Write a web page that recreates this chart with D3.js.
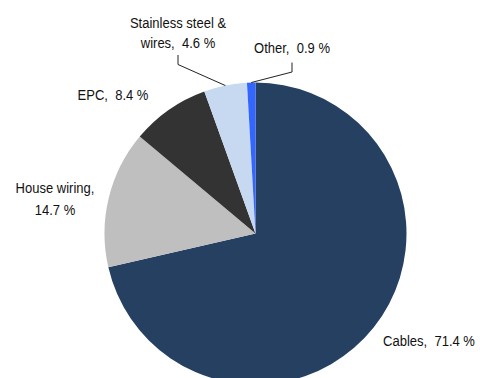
<!DOCTYPE html>
<html>
<head>
<meta charset="utf-8">
<script src="https://cdn.jsdelivr.net/npm/d3@7"></script>
<style>
  html, body { margin: 0; padding: 0; background: #fff; }
  svg { display: block; }
  text { font-family: "Liberation Sans", Arial, sans-serif; font-size: 15.5px; fill: #111; }
</style>
</head>
<body>
<svg id="chart" width="480" height="378"></svg>
<script>
// Segment names and shares (%)
const categories = ["Cables", "House wiring", "EPC", "Stainless steel & wires", "Other"];
const shares = [71.4, 14.7, 8.4, 4.6, 0.9];
const colors = ["#264061", "#bfbfbf", "#333333", "#c6d9f1", "#3366ff"];

// Label text lines for each segment (value is appended from shares)
const labelLines = [
  ["Cables, "],
  ["House wiring,", ""],
  ["EPC, "],
  ["Stainless steel &", "wires, "],
  ["Other, "]
];

// Label placement: anchor point, line spacing, and optional leader elbow
const labelLayout = [
  { x: 429, y: 345.5, dy: 0, leader: false },
  { x: 55, y: 193, dy: 22, leader: false },
  { x: 113, y: 100, dy: 0, leader: false },
  { x: 178, y: 27.5, dy: 20.8, leader: true, elbowY: 55 },
  { x: 292, y: 52.7, dy: 0, leader: true, elbowY: 62.5 }
];

// Condensed look for the label face
const textScaleX = 0.84;

const svg = d3.select("#chart");
const cx = 255.5, cy = 233.5, radius = 151;

const pie = d3.pie().sort(null).value(d => d.value).startAngle(0).endAngle(2 * Math.PI);
const data = categories.map((c, i) => ({ name: c, value: shares[i], color: colors[i], i }));
const arcs = pie(data);

const arc = d3.arc().innerRadius(0).outerRadius(radius);

const g = svg.append("g").attr("transform", `translate(${cx},${cy})`);

g.selectAll("path.slice")
  .data(arcs)
  .join("path")
  .attr("class", "slice")
  .attr("d", arc)
  .attr("fill", d => d.data.color);

// Leader lines from the slice rim up to the label
arcs.forEach(a => {
  const lay = labelLayout[a.data.i];
  if (!lay.leader) return;
  const mid = (a.startAngle + a.endAngle) / 2;
  const px = cx + radius * Math.sin(mid);
  const py = cy - radius * Math.cos(mid);
  const line = d3.line();
  svg.append("path")
    .attr("d", line([[lay.x, lay.elbowY], [lay.x, lay.elbowY + 9.5], [px, py]]))
    .attr("fill", "none")
    .attr("stroke", "#222")
    .attr("stroke-width", 1);
});

// Labels
const fmt = d3.format(".1f");
arcs.forEach(a => {
  const i = a.data.i;
  const lay = labelLayout[i];
  const lines = labelLines[i].slice();
  const last = lines.length - 1;
  lines[last] = lines[last] + (lines[last] ? " " : "") + fmt(shares[i]) + " %";
  const t = svg.append("g")
    .attr("transform", `translate(${lay.x},${lay.y}) scale(${textScaleX},1)`)
    .append("text")
    .attr("text-anchor", "middle")
    .attr("xml:space", "preserve")
    .style("white-space", "pre");
  lines.forEach((ln, k) => {
    t.append("tspan")
      .attr("x", 0)
      .attr("y", k * lay.dy)
      .text(ln);
  });
});
</script>
</body>
</html>
